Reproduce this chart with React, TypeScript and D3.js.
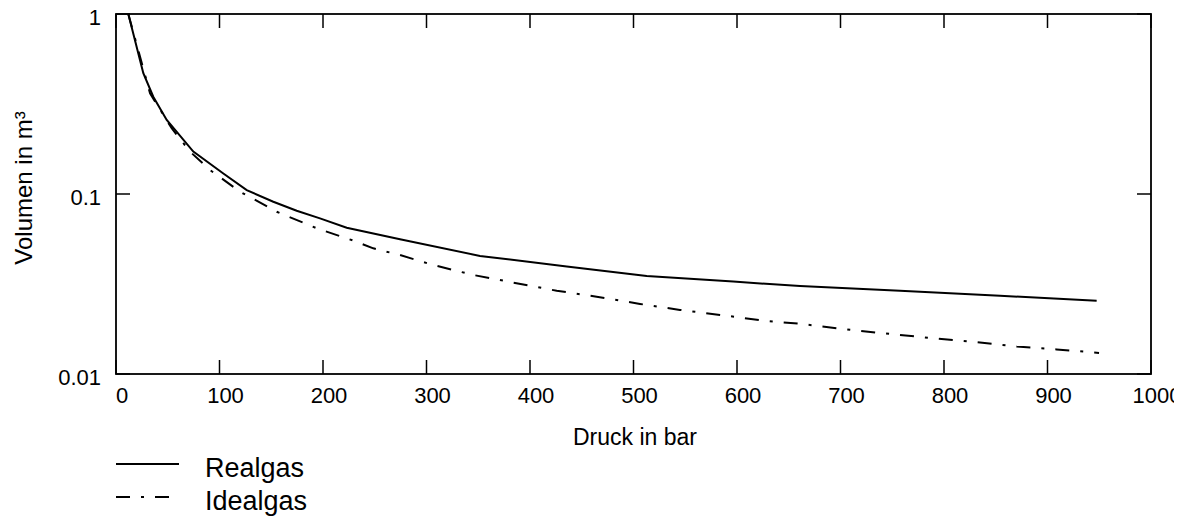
import React from "react";
import * as d3 from "d3";

const realP = [11.9, 26.4, 36.0, 49.0, 74.7, 103.7, 126.3, 152.0, 174.6, 197.1, 222.9, 274.4, 351.7, 435.5, 512.8, 596.4, 660.9, 757.5, 854.1, 947.5];
const realV = [1.0, 0.469, 0.347, 0.258, 0.172, 0.130, 0.105, 0.0906, 0.0807, 0.0732, 0.0650, 0.0560, 0.0453, 0.0395, 0.0350, 0.0326, 0.0308, 0.0290, 0.0272, 0.0255];

const idealP = [11.9, 32.9, 53.8, 71.5, 90.8, 119.8, 155.3, 193.9, 229.3, 248.6, 274.4, 306.6, 345.2, 383.9, 425.8, 464.4, 506.3, 544.9, 583.6, 625.4, 660.9, 709.2, 747.8, 789.7, 828.3, 870.2, 908.8, 949.8];
const idealV = [1.0, 0.362, 0.232, 0.172, 0.136, 0.103, 0.0797, 0.0645, 0.0551, 0.0499, 0.0458, 0.0403, 0.0355, 0.0322, 0.0290, 0.0269, 0.0245, 0.0227, 0.0213, 0.0198, 0.0190, 0.0176, 0.0167, 0.0158, 0.0151, 0.0142, 0.0137, 0.0131];

const xTicks = [0, 100, 200, 300, 400, 500, 600, 700, 800, 900, 1000];
const yTicks = [0.01, 0.1, 1];
const yTickLabels = ["0.01", "0.1", "1"];

const seriesNames = ["Realgas", "Idealgas"];
const xLabel = "Druck in bar";
const yLabel = "Volumen in m³";

const W = 1188;
const H = 518;
const L = 116, R = 1151, T = 14, B = 374;
const FONT = "'Liberation Sans', Arial, Helvetica, sans-serif";
const DASH = "14,11,3,11";

export default function App() {
  const x = d3.scaleLinear().domain([0, 1000]).range([L, R]);
  const y = d3.scaleLog().domain([0.01, 1]).range([B, T]);
  const line = d3
    .line<[number, number]>()
    .x((d) => x(d[0]))
    .y((d) => y(d[1]));
  const real = line(realP.map((p, i) => [p, realV[i]]) as [number, number][]) || "";
  const ideal = line(idealP.map((p, i) => [p, idealV[i]]) as [number, number][]) || "";
  const tl = 14;

  return (
    <svg
      width={W}
      height={H}
      style={{ position: "absolute", left: 0, top: 0, display: "block", background: "#fff" }}
      fontFamily={FONT}
    >
      <defs>
        <clipPath id="pageclip">
          <rect x={0} y={0} width={1174} height={H} />
        </clipPath>
      </defs>
      <rect x={0} y={0} width={W} height={H} fill="#fff" />
      <path d={real} fill="none" stroke="#000" strokeWidth={2} />
      <path d={ideal} fill="none" stroke="#000" strokeWidth={2} strokeDasharray={DASH} />
      {xTicks.map((t) => (
        <g key={"x" + t}>
          <line x1={x(t)} x2={x(t)} y1={B} y2={B - tl} stroke="#000" strokeWidth={1.5} />
          <line x1={x(t)} x2={x(t)} y1={T} y2={T + tl} stroke="#000" strokeWidth={1.5} />
          <text x={x(t) + 6} y={403} textAnchor="middle" fontSize={22} fill="#000" clipPath="url(#pageclip)">
            {t}
          </text>
        </g>
      ))}
      {yTicks.map((t, i) => (
        <g key={"y" + t}>
          <line x1={L} x2={L + tl} y1={y(t)} y2={y(t)} stroke="#000" strokeWidth={1.5} />
          <line x1={R} x2={R - tl} y1={y(t)} y2={y(t)} stroke="#000" strokeWidth={1.5} />
          <text x={101} y={y(t) + 11} textAnchor="end" fontSize={22} fill="#000">
            {yTickLabels[i]}
          </text>
        </g>
      ))}
      <rect x={L} y={T} width={R - L} height={B - T} fill="none" stroke="#000" strokeWidth={1.8} />
      <text x={635} y={445} textAnchor="middle" fontSize={23} fill="#000">
        {xLabel}
      </text>
      <text
        transform={`translate(32,188) rotate(-90)`}
        textAnchor="middle"
        fontSize={24}
        fill="#000"
      >
        {yLabel}
      </text>
      <line x1={116} x2={179} y1={464} y2={464} stroke="#000" strokeWidth={1.8} />
      <text x={205} y={477} fontSize={27} fill="#000">
        {seriesNames[0]}
      </text>
      <line x1={116} x2={179} y1={497} y2={497} stroke="#000" strokeWidth={1.8} strokeDasharray={DASH} />
      <text x={205} y={510} fontSize={27} fill="#000">
        {seriesNames[1]}
      </text>
    </svg>
  );
}
